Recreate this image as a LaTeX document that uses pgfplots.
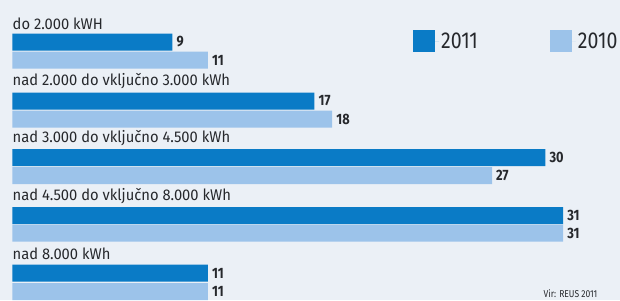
\documentclass[border=0pt]{standalone}
\usepackage{fontspec}
\setmainfont{Fira Sans}
\newfontfamily\condfont{Fira Sans}[FakeStretch=0.85]
\newfontfamily\labfont{Fira Sans}[FakeStretch=0.95]
\usepackage{pgfplots}
\pgfplotsset{compat=1.18}
\definecolor{bg}{HTML}{EBF0F6}
\definecolor{dark}{HTML}{0A7BC6}
\definecolor{light}{HTML}{9CC3EA}
\definecolor{txt}{HTML}{26282C}
\begin{document}
\begin{tikzpicture}
\fill[bg] (0,0) rectangle (620pt,300pt);
\useasboundingbox (0,0) rectangle (620pt,300pt);
\begin{axis}[at={(0,0)}, anchor=south west, scale only axis,
  width=620pt, height=300pt,
  xmin=-0.7038, xmax=34.206, ymin=0, ymax=300, y dir=reverse,
  hide axis, clip=false,
  /pgf/number format/assume math mode=true,
  xbar, bar shift=0pt, bar width=17,
  nodes near coords,
  nodes near coords style={font=\condfont\bfseries\fontsize{15}{15}\selectfont, text=txt, anchor=west, inner sep=4pt},
  legend style={at={(axis cs:22.55,30)}, anchor=north west, draw=none, fill=none,
    legend columns=2, font=\condfont\fontsize{23}{23}\selectfont, text=txt, inner sep=0pt,
    nodes={inner sep=2pt},
    /tikz/every even column/.append style={column sep=70pt}},
  legend image code/.code={\fill[#1,draw=none] (0pt,-11pt) rectangle (22pt,11pt);\path (0pt,0pt) -- (26pt,0pt);},
]
\addplot[fill=dark, draw=none] coordinates {(9,42) (17,101) (30,157.5) (31,215.5) (11,273)};
\addplot[fill=light, draw=none] coordinates {(11,60) (18,119) (27,175.5) (31,233) (11,291.5)};
\legend{2011, 2010}
\begin{scope}[every node/.style={anchor=west, inner sep=0pt, text=txt, font=\labfont\fontsize{15.5}{15.5}\selectfont}]
\node at (axis cs:0,23.5) {do 2.000 kWH};
\node at (axis cs:0,81) {nad 2.000 do vključno 3.000 kWh};
\node at (axis cs:0,138.5) {nad 3.000 do vključno 4.500 kWh};
\node at (axis cs:0,196.5) {nad 4.500 do vključno 8.000 kWh};
\node at (axis cs:0,254) {nad 8.000 kWh};
\end{scope}
\node[anchor=base west, inner sep=0pt, text=txt, font=\condfont\fontsize{10}{10}\selectfont] at (axis cs:29.9,297) {Vir: REUS 2011};
\end{axis}
\end{tikzpicture}
\end{document}
